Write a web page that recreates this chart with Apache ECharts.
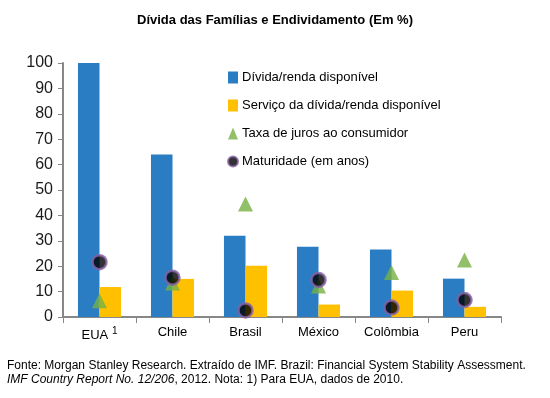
<!DOCTYPE html>
<html>
<head>
<meta charset="utf-8">
<script src="https://cdn.jsdelivr.net/npm/echarts@6/dist/echarts.min.js"></script>
<style>
  html, body { margin: 0; padding: 0; background: #fff; }
  #chart { width: 550px; height: 398px; }
</style>
</head>
<body>
<div id="chart"></div>
<script>
const paises = ['EUA', 'Chile', 'Brasil', 'México', 'Colômbia', 'Peru']
const dividaRenda = [100, 64, 32, 27.7, 26.6, 15.1]
const servicoDivida = [11.8, 15, 20.2, 4.9, 10.4, 4]
const taxaJuros = [6.4, 13.4, 44.5, 12.2, 17.5, 22.4]
const maturidade = [21.6, 15.5, 2.6, 14.6, 3.7, 6.7]
const yTicks = [0, 100, 10]  // min, max, interval

const chart = echarts.init(document.getElementById('chart'))
const fonte = 'Liberation Sans, Arial, sans-serif'

chart.setOption({
  textStyle: { fontFamily: fonte },
  animation: false,
  title: {
    text: 'Dívida das Famílias e Endividamento (Em %)',
    left: 'center',
    top: 9,
    textStyle: { fontSize: 13, fontWeight: 'bold', color: '#000', fontFamily: fonte }
  },
  legend: {
    orient: 'vertical',
    left: 222,
    top: 66,
    itemGap: 15,
    itemWidth: 10,
    itemHeight: 12,
    textStyle: { fontSize: 13, color: '#000', padding: [0, 0, 0, -1] },
    data: [
      { name: 'Dívida/renda disponível', icon: 'rect' },
      { name: 'Serviço da dívida/renda disponível', icon: 'rect' },
      { name: 'Taxa de juros ao consumidor', icon: 'triangle' },
      { name: 'Maturidade (em anos)', icon: 'circle' }
    ]
  },
  grid: { left: 63, right: 49, top: 63, bottom: 81 },
  xAxis: {
    type: 'category',
    data: paises,
    axisLine: { lineStyle: { color: '#878787', width: 2 } },
    axisTick: { show: true, length: 6, lineStyle: { color: '#878787' } },
    axisLabel: {
      interval: 0,
      fontSize: 13, color: '#000', margin: 9,
      formatter: v => v === 'EUA' ? 'EUA {sup|1}' : v,
      rich: { sup: { fontSize: 10, verticalAlign: 'top', padding: [0, 0, 8, 0], color: '#000' } }
    }
  },
  yAxis: {
    type: 'value',
    min: yTicks[0], max: yTicks[1], interval: yTicks[2],
    splitLine: { show: false },
    axisLine: { show: true, lineStyle: { color: '#878787', width: 2 } },
    axisTick: { show: true, length: 5, lineStyle: { color: '#878787' } },
    axisLabel: { fontSize: 16, color: '#1a1a1a', margin: 10 }
  },
  series: [
    {
      name: 'Dívida/renda disponível', type: 'bar', data: dividaRenda,
      barGap: '0%', barCategoryGap: '41%',
      itemStyle: { color: '#2a7dc3' }
    },
    {
      name: 'Serviço da dívida/renda disponível', type: 'bar', data: servicoDivida,
      itemStyle: { color: '#ffc000' }
    },
    {
      name: 'Taxa de juros ao consumidor', type: 'scatter', data: taxaJuros,
      symbol: 'triangle', symbolSize: 15,
      itemStyle: { color: '#77b043' }
    },
    {
      name: 'Maturidade (em anos)', type: 'scatter', data: maturidade,
      symbol: 'circle', symbolSize: 14,
      itemStyle: { color: '#000', borderColor: '#8a62a8', borderWidth: 2.5 }
    }
  ],
  graphic: [
    {
      type: 'text', left: 7, top: 360,
      style: {
        text: 'Fonte: Morgan Stanley Research. Extraído de IMF. Brazil: Financial System Stability Assessment.',
        font: '12px ' + fonte, fill: '#000'
      }
    },
    {
      type: 'text', left: 7, top: 374,
      style: {
        text: '{i|IMF Country Report No. 12/206}, 2012. Nota: 1) Para EUA, dados de 2010.',
        font: '12px ' + fonte, fill: '#000',
        rich: { i: { fontStyle: 'italic', fontSize: 12, fontFamily: fonte } }
      }
    }
  ]
})
</script>
</body>
</html>
